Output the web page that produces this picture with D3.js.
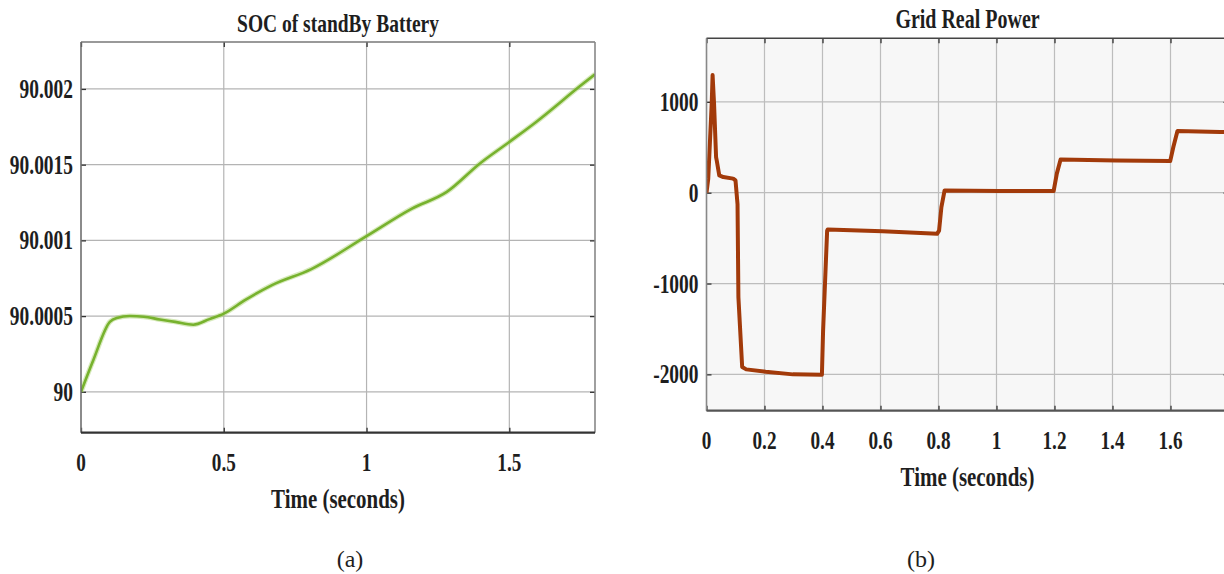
<!DOCTYPE html>
<html>
<head>
<meta charset="utf-8">
<script src="https://cdn.jsdelivr.net/npm/d3@7/dist/d3.min.js"></script>
<style>
  html, body { margin: 0; padding: 0; background: #fff; }
  svg { display: block; }
  text { font-family: "Liberation Serif", "Times New Roman", serif; fill: #1e1e1e; }
</style>
</head>
<body>
<svg id="fig" width="1224" height="574"></svg>
<script>
// ---- Panel (a): state of charge of the standby battery ----
const socTime  = [0, 0.043, 0.101, 0.125, 0.171, 0.22, 0.276, 0.33, 0.393, 0.45, 0.5, 0.574, 0.669, 0.805, 1.0, 1.159, 1.281, 1.397, 1.5, 1.594, 1.751, 1.8];
const socValue = [90, 90.000209, 90.000462, 90.000488, 90.000501, 90.000496, 90.000478, 90.000462, 90.000443, 90.00048, 90.000516, 90.000605, 90.000705, 90.000809, 90.001028, 90.00121, 90.00132, 90.001508, 90.00165, 90.001782, 90.002024, 90.002097];
const socXTicks = [0, 0.5, 1, 1.5];
const socXLabels = ["0", "0.5", "1", "1.5"];
const socYTicks = [90, 90.0005, 90.001, 90.0015, 90.002];
const socYLabels = ["90", "90.0005", "90.001", "90.0015", "90.002"];

// ---- Panel (b): grid real power ----
const gridTime  = [0, 0.006, 0.018, 0.021, 0.026, 0.033, 0.035, 0.044, 0.058, 0.092, 0.1, 0.107, 0.110, 0.123, 0.137, 0.204, 0.298, 0.398, 0.402, 0.409, 0.416, 0.418, 0.607, 0.795, 0.802, 0.810, 0.821, 1.009, 1.197, 1.208, 1.221, 1.412, 1.599, 1.610, 1.624, 1.771, 1.8];
const gridPower = [0, 155, 983, 1296, 985, 393, 360, 191, 172, 155, 136, -127, -1150, -1919, -1945, -1971, -2000, -2005, -1521, -969, -417, -405, -424, -453, -417, -159, 25, 18, 18, 210, 366, 355, 348, 506, 679, 668, 668];
const gridXTicks = [0, 0.2, 0.4, 0.6, 0.8, 1, 1.2, 1.4, 1.6];
const gridXLabels = ["0", "0.2", "0.4", "0.6", "0.8", "1", "1.2", "1.4", "1.6"];
const gridYTicks = [-2000, -1000, 0, 1000];
const gridYLabels = ["-2000", "-1000", "0", "1000"];

const svg = d3.select("#fig");

function panel(cfg) {
  const { left, right, top, bottom } = cfg.box;
  const x = d3.scaleLinear().domain(cfg.xDomain).range([left, right]);
  const y = d3.scaleLinear().domain(cfg.yDomain).range([bottom, top]);
  const g = svg.append("g");

  g.append("rect")
    .attr("x", left).attr("y", top)
    .attr("width", right - left).attr("height", bottom - top)
    .attr("fill", cfg.bg);

  // grid lines
  g.append("g").selectAll("line").data(cfg.xTicks.filter(d => d !== cfg.xDomain[0]))
    .join("line")
    .attr("x1", d => x(d)).attr("x2", d => x(d))
    .attr("y1", top).attr("y2", bottom)
    .attr("stroke", cfg.gridColor).attr("stroke-width", 1.2);
  g.append("g").selectAll("line").data(cfg.yTicks)
    .join("line")
    .attr("x1", left).attr("x2", right)
    .attr("y1", d => y(d)).attr("y2", d => y(d))
    .attr("stroke", cfg.gridColor).attr("stroke-width", 1.2);

  // inward tick marks on all four sides
  const tk = 5;
  const axStyle = sel => { sel.select(".domain").remove(); sel.selectAll("text").remove();
    sel.selectAll(".tick line").attr("stroke", "#333").attr("stroke-width", 1.3); };
  g.append("g").attr("transform", `translate(0,${bottom})`)
    .call(d3.axisBottom(x).tickValues(cfg.xTicks).tickSize(-tk)).call(axStyle);
  g.append("g").attr("transform", `translate(0,${top})`)
    .call(d3.axisTop(x).tickValues(cfg.xTicks).tickSize(-tk)).call(axStyle);
  g.append("g").attr("transform", `translate(${left},0)`)
    .call(d3.axisLeft(y).tickValues(cfg.yTicks).tickSize(-tk)).call(axStyle);
  g.append("g").attr("transform", `translate(${right},0)`)
    .call(d3.axisRight(y).tickValues(cfg.yTicks).tickSize(-tk)).call(axStyle);

  // data line
  const clipId = cfg.id + "-clip";
  svg.append("clipPath").attr("id", clipId).append("rect")
    .attr("x", left).attr("y", top).attr("width", right - left).attr("height", bottom - top);
  const pts = cfg.xs.map((t, i) => [t, cfg.ys[i]]);
  const line = d3.line().x(d => x(d[0])).y(d => y(d[1])).curve(cfg.curve);
  const lg = g.append("g").attr("clip-path", `url(#${clipId})`);
  if (cfg.halo) {
    lg.append("path").datum(pts).attr("d", line)
      .attr("fill", "none").attr("stroke", cfg.halo).attr("stroke-opacity", 0.45)
      .attr("stroke-width", cfg.lineWidth + 2.5).attr("stroke-linejoin", "round");
  }
  lg.append("path").datum(pts).attr("d", line)
    .attr("fill", "none").attr("stroke", cfg.lineColor)
    .attr("stroke-width", cfg.lineWidth).attr("stroke-linejoin", "round");

  // frame
  const fr = g.append("g").attr("fill", "none");
  fr.append("line").attr("x1", left).attr("x2", right).attr("y1", top).attr("y2", top)
    .attr("stroke", cfg.frame.top).attr("stroke-width", 1.6);
  fr.append("line").attr("x1", right).attr("x2", right).attr("y1", top).attr("y2", bottom)
    .attr("stroke", cfg.frame.right).attr("stroke-width", 1.6);
  fr.append("line").attr("x1", left).attr("x2", left).attr("y1", top).attr("y2", bottom)
    .attr("stroke", cfg.frame.left).attr("stroke-width", 1.6);
  fr.append("line").attr("x1", left).attr("x2", right).attr("y1", bottom).attr("y2", bottom)
    .attr("stroke", cfg.frame.bottom).attr("stroke-width", 2.2);

  // condensed bold serif labels
  const label = (txt, px, py, size, sx, anchor, weight) =>
    g.append("text")
      .attr("transform", `translate(${px},${py}) scale(${sx},1)`)
      .attr("text-anchor", anchor)
      .attr("font-size", size)
      .attr("font-weight", weight || "bold")
      .text(txt);

  cfg.xTicks.forEach((d, i) => label(cfg.xLabels[i], x(d), bottom + 38, 26, 0.74, "middle"));
  cfg.yTicks.forEach((d, i) => label(cfg.yLabels[i], left - 8, y(d) + 9, 27, 0.72, "end"));
  const cx = (left + right) / 2;
  label(cfg.title, cx, top - 10.5, cfg.titleSize, cfg.titleScale, "middle");
  label("Time (seconds)", cx, bottom + 75, 27, 0.775, "middle");
  label(cfg.tag, cfg.tagX, 567, 24, 1, "middle", "normal");
}

panel({
  id: "soc",
  box: { left: 81, right: 595, top: 42, bottom: 432.7 },
  xDomain: [0, 1.8], yDomain: [89.99973, 90.00231],
  xTicks: socXTicks, xLabels: socXLabels, yTicks: socYTicks, yLabels: socYLabels,
  xs: socTime, ys: socValue, curve: d3.curveMonotoneX,
  bg: "#ffffff", gridColor: "#b4b4b4",
  lineColor: "#77b22e", halo: "#a6d06a", lineWidth: 2.6,
  frame: { top: "#777", right: "#888", left: "#6e6e6e", bottom: "#333" },
  title: "SOC of standBy Battery", titleSize: 25, titleScale: 0.78,
  tag: "(a)", tagX: 350
});

panel({
  id: "grid",
  box: { left: 706.5, right: 1228.5, top: 38.3, bottom: 410.7 },
  xDomain: [0, 1.8], yDomain: [-2400, 1700],
  xTicks: gridXTicks, xLabels: gridXLabels, yTicks: gridYTicks, yLabels: gridYLabels,
  xs: gridTime, ys: gridPower, curve: d3.curveLinear,
  bg: "#f7f7f7", gridColor: "#bdbdbd",
  lineColor: "#a23a0a", halo: null, lineWidth: 4,
  frame: { top: "#444", right: "#888", left: "#888", bottom: "#555" },
  title: "Grid Real Power", titleSize: 27, titleScale: 0.74,
  tag: "(b)", tagX: 921
});
</script>
</body>
</html>
